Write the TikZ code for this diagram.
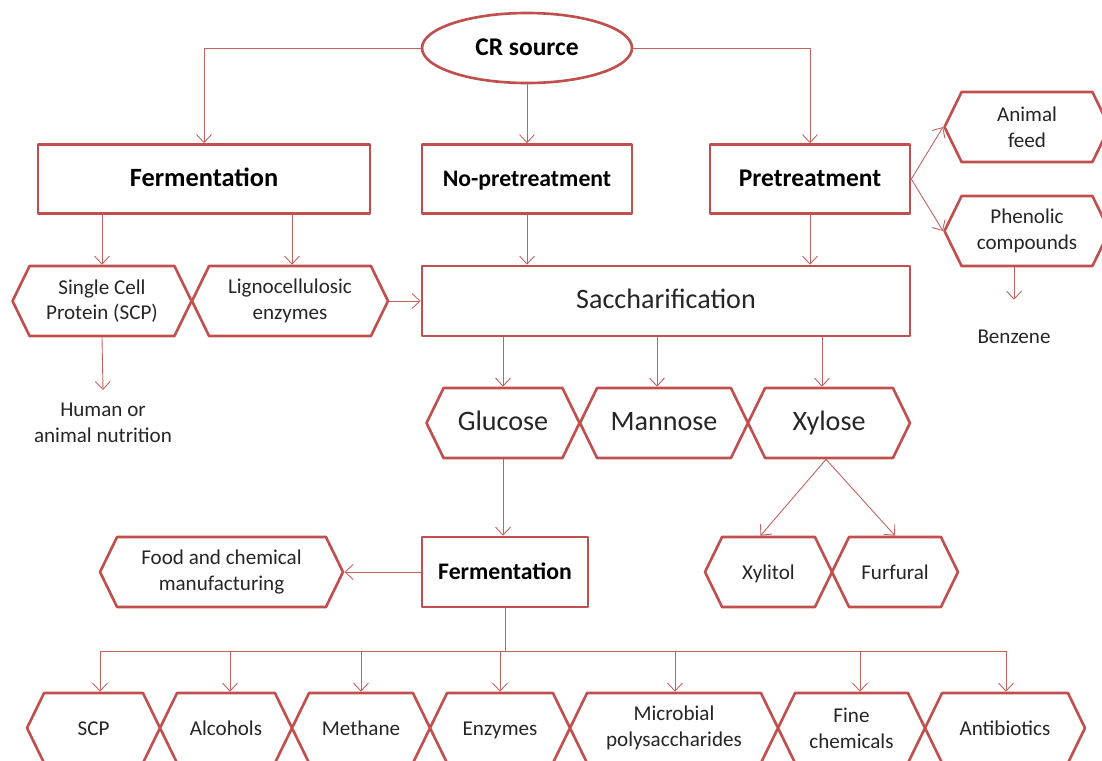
\documentclass[tikz,border=0pt]{standalone}
\usepackage{fontspec}
\setmainfont{Carlito}
\usepackage{xcolor}
\usepackage{tikz}
\usetikzlibrary{arrows.meta,positioning,calc,shapes.geometric,shapes.symbols}
\definecolor{boxred}{HTML}{C0504D}
\definecolor{linered}{HTML}{C4605D}
\definecolor{textdark}{HTML}{262626}

\begin{document}
\begin{tikzpicture}[
    x=1cm,y=1cm,
    line join=round,
    box/.style={draw=boxred, fill=white, line width=1.5pt, inner sep=2pt, align=center, minimum height=1.38cm},
    hexa/.style={signal, signal to=east and west, signal pointer angle=128, draw=boxred, fill=white, line width=1.5pt, inner sep=1pt, align=center, minimum height=1.4cm, text=textdark},
    source/.style={ellipse, draw=boxred, fill=white, line width=1.5pt, minimum width=4.2cm, minimum height=1.4cm, inner sep=0pt},
    oneline/.style={text height=2.15ex, text depth=0.45ex},
    flow/.style={-{Straight Barb[length=1.6mm,width=3mm]}, line width=0.5pt, draw=linered},
    plainline/.style={line width=0.5pt, draw=linered},
    bigtext/.style={font=\fontsize{15}{18}\selectfont\bfseries},
    midtext/.style={font=\fontsize{16}{19}\selectfont},
    smalltext/.style={font=\fontsize{12}{14.6}\selectfont},
    freetext/.style={font=\fontsize{12}{14.6}\selectfont, text=textdark, align=center}
]
\useasboundingbox (0,0) rectangle (22.04,-15.2);

% Source
\node[source, oneline, font=\fontsize{14.5}{17}\selectfont\bfseries] (crsrc) at (10.54,-0.96) {CR source};

% First level
\node[box, oneline, bigtext, minimum width=6.64cm] (ferm1) at (4.08,-3.58) {Fermentation};
\node[box, oneline, font=\fontsize{13.5}{16}\selectfont\bfseries, minimum width=4.2cm] (nopre) at (10.54,-3.58) {No-pretreatment};
\node[box, oneline, font=\fontsize{14.5}{17}\selectfont\bfseries, minimum width=4.0cm] (pretr) at (16.2,-3.58) {Pretreatment};

\draw[flow] (crsrc.west) -| (ferm1.north);
\draw[flow] (crsrc.south) -- (nopre.north);
\draw[flow] (crsrc.east) -| (pretr.north);

% Pretreatment products
\node[hexa, smalltext, minimum width=3.3cm] (feed) at (20.54,-2.54) {Animal\\feed};
\node[hexa, smalltext, minimum width=3.3cm] (phen) at (20.54,-4.62) {Phenolic\\compounds};
\node[freetext, oneline, inner ysep=0.5cm] (benzene) at (20.28,-6.72) {Benzene};
\draw[flow] (pretr.east) -- (feed.west);
\draw[flow] (pretr.east) -- (phen.west);
\draw[flow] (benzene.north |- phen.south) -- (benzene.north);

% Fermentation products
\node[hexa, smalltext, minimum width=3.58cm] (scp1) at (2.04,-6.02) {Single Cell\\Protein (SCP)};
\node[hexa, smalltext, minimum width=3.92cm] (ligno) at (5.80,-6.02) {Lignocellulosic\\enzymes};
\node[freetext, inner ysep=0.26cm] (human) at (2.06,-8.46) {Human or\\animal nutrition};
\draw[flow] (scp1.north |- ferm1.south) -- (scp1.north);
\draw[flow] ([xshift=0.04cm]ligno.north |- ferm1.south) -- ([xshift=0.04cm]ligno.north);
\draw[flow] (scp1.south) -- (human.north);

% Saccharification
\node[box, oneline, midtext, minimum width=9.76cm, minimum height=1.4cm, text=textdark] (sacch) at (13.32,-6.02) {Saccharification};
\draw[flow] (ligno.east) -- (sacch.west);
\draw[flow] (nopre.south) -- (nopre.south |- sacch.north);
\draw[flow] (pretr.south) -- (pretr.south |- sacch.north);

% Sugars
\node[hexa, oneline, midtext, minimum width=3.06cm] (glucose) at (10.06,-8.46) {Glucose};
\node[hexa, oneline, midtext, minimum width=3.36cm] (mannose) at (13.28,-8.46) {Mannose};
\node[hexa, oneline, midtext, minimum width=3.24cm] (xylose) at (16.58,-8.46) {Xylose};
\draw[flow] (glucose.north |- sacch.south) -- (glucose.north);
\draw[flow] ([xshift=-0.14cm]mannose.north |- sacch.south) -- ([xshift=-0.14cm]mannose.north);
\draw[flow] ([xshift=-0.14cm]xylose.north |- sacch.south) -- ([xshift=-0.14cm]xylose.north);

% Second fermentation
\node[box, oneline, font=\fontsize{13.5}{16}\selectfont\bfseries, minimum width=3.32cm, minimum height=1.4cm] (ferm2) at (10.1,-11.44) {Fermentation};
\node[hexa, smalltext, minimum width=4.86cm] (food) at (4.43,-11.44) {Food and chemical\\manufacturing};
\draw[flow] (glucose.south) -- (glucose.south |- ferm2.north);
\draw[flow] (ferm2.west) -- (food.east);

% Xylose products
\node[hexa, oneline, smalltext, minimum width=2.54cm] (xylitol) at (15.37,-11.44) {Xylitol};
\node[hexa, oneline, smalltext, minimum width=2.52cm] (furfural) at (17.9,-11.44) {Furfural};
\draw[flow] ([xshift=-0.06cm]xylose.south) -- ([xshift=-0.16cm]xylitol.north);
\draw[flow] ([xshift=-0.06cm]xylose.south) -- (furfural.north);

% Final products
\node[hexa, oneline, smalltext, minimum width=2.66cm] (scp2) at (1.87,-14.56) {SCP};
\node[hexa, oneline, smalltext, minimum width=2.64cm] (alcohols) at (4.52,-14.56) {Alcohols};
\node[hexa, oneline, smalltext, minimum width=2.76cm] (methane) at (7.22,-14.56) {Methane};
\node[hexa, oneline, smalltext, minimum width=2.8cm] (enzymes) at (10.0,-14.56) {Enzymes};
\node[hexa, smalltext, minimum width=4.16cm] (microbial) at (13.48,-14.56) {Microbial\\polysaccharides};
\node[hexa, smalltext, minimum width=2.94cm] (fine) at (17.03,-14.56) {Fine\\chemicals};
\node[hexa, oneline, smalltext, minimum width=3.2cm] (antib) at (20.1,-14.56) {Antibiotics};

\coordinate (bus) at ([yshift=-0.86cm]ferm2.south);
\draw[plainline] (ferm2.south) -- (bus);
\draw[plainline] ([xshift=0.13cm]scp2.north |- bus) -- ([xshift=0.02cm]antib.north |- bus);
\foreach \n/\dx in {scp2/0.13, alcohols/0.08, methane/0, enzymes/0, microbial/0.02, fine/0.17, antib/0.02}
    \draw[flow] ([xshift=\dx cm]\n.north |- bus) -- ([xshift=\dx cm]\n.north);

\end{tikzpicture}
\end{document}
